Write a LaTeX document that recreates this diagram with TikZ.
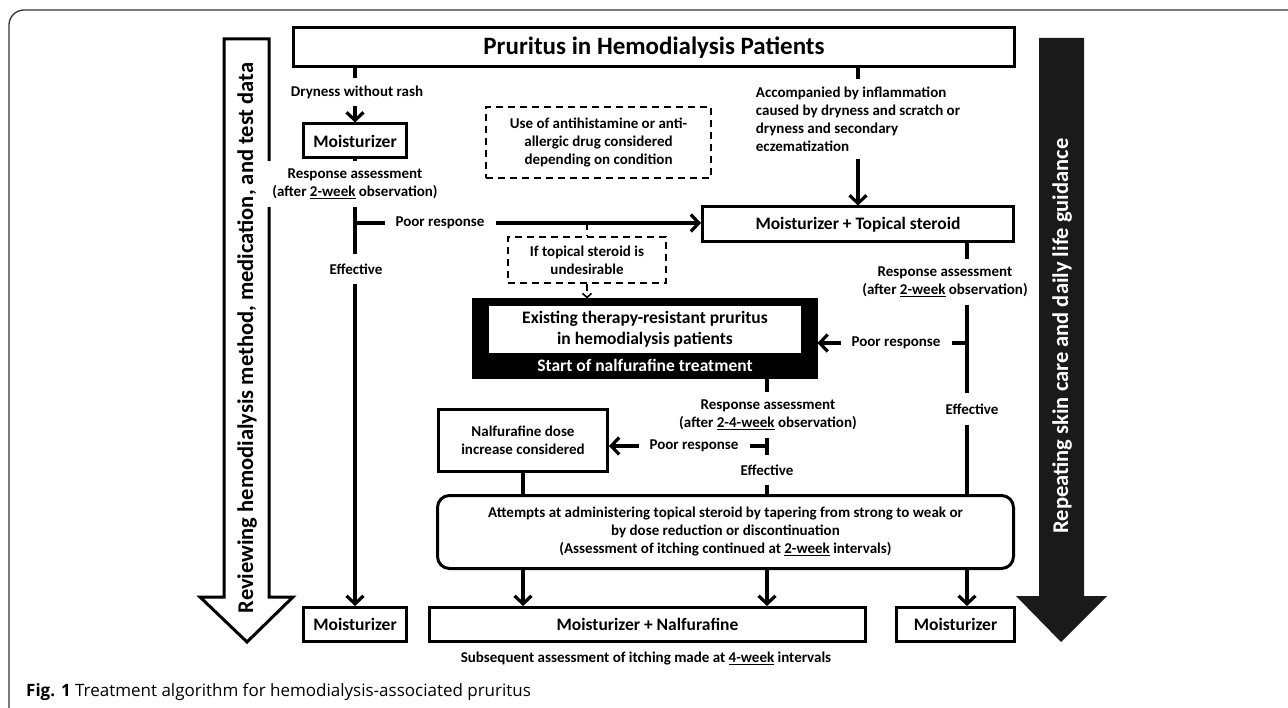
\documentclass[tikz,border=0pt]{standalone}
\usepackage{fontspec}
\setmainfont{Carlito}
\newfontfamily\capfont{Open Sans}
\usetikzlibrary{arrows.meta, positioning}
\definecolor{framegray}{HTML}{333333}
\definecolor{arrowblack}{HTML}{1A1A1A}
\tikzset{
>={Straight Barb[length=8pt,width=17pt]}, % open v-shaped heads
link/.style={line width=3.2pt}, % solid connectors
dashlink/.style={line width=1.6pt, dash pattern=on 7pt off 5pt}, % dashed connectors
box/.style={draw, line width=3pt, fill=white, inner sep=0pt, align=center, font=\bfseries\fontsize{17.5}{21}\selectfont},
smallbox/.style={box, font=\bfseries\fontsize{15}{18}\selectfont},
dbox/.style={draw, dashlink, align=center, inner sep=0pt, font=\bfseries\fontsize{15}{18}\selectfont},
lbl/.style={fill=white, align=center, inner xsep=11pt, inner ysep=8pt, font=\bfseries\fontsize{15}{18}\selectfont},
}

\begin{document}
\begin{tikzpicture}[x=1pt, y=-1pt]
  \useasboundingbox (0,0) rectangle (1288,708);
  % Frame
  \draw[framegray, line width=1.3pt, rounded corners=15pt] (9,708) -- (9,10) -- (1288,10);

  % Side arrows
  \draw[line width=3pt, fill=white] (224,39) -- (269,39) -- (269,597) -- (293,597) -- (247,642) -- (200,597) -- (224,597) -- cycle;
  \node[rotate=90, font=\bfseries\fontsize{22.5}{27}\selectfont] (review) at (247,338) {Reviewing hemodialysis method, medication, and test data};
  \fill[arrowblack] (1039,38) -- (1084,38) -- (1084,596) -- (1107,596) -- (1061,642) -- (1016,596) -- (1039,596) -- cycle;
  \node[rotate=90, text=white, font=\bfseries\fontsize{22.5}{27}\selectfont] (repeat) at (1062,336) {Repeating skin care and daily life guidance};

  % States
  \node[box, minimum width=721, minimum height=39, font=\bfseries\fontsize{25}{30}\selectfont] (top) at (654,47.5) {Pruritus in Hemodialysis Patients};
  \node[box, minimum width=103, minimum height=34] (moistA) at (355,141) {Moisturizer};
  \node[box, minimum width=311, minimum height=35] (mts) at (858,224.5) {Moisturizer + Topical steroid};
  \node[dbox, minimum width=225, minimum height=71] (antihist) at (598.5,142.5) {Use of antihistamine or anti-\\allergic drug considered\\depending on condition};
  \node[dbox, minimum width=158, minimum height=46] (undes) at (587,260) {If topical steroid is\\undesirable};
  \node[draw, fill=black, line width=1pt, minimum width=345, minimum height=80, inner sep=0pt] (nalf) at (644.5,339) {};
  \node[fill=white, minimum width=312, minimum height=47, inner sep=0pt, align=center, font=\bfseries\fontsize{17.5}{21}\selectfont] (resist) at (645,329.5) {Existing therapy-resistant pruritus\\in hemodialysis patients};
  \node[text=white, font=\bfseries\fontsize{17.5}{21}\selectfont] (starttx) at (645,365) {Start of nalfurafine treatment};
  \node[smallbox, minimum width=169, minimum height=62] (dose) at (523,440.5) {Nalfurafine dose\\increase considered};
  \node[smallbox, rounded corners=12pt, minimum width=576, minimum height=73] (attempts) at (725.5,532) {Attempts at administering topical steroid by tapering from strong to weak or\\by dose reduction or discontinuation\\(Assessment of itching continued at \underline{2-week} intervals)};
  \node[box, minimum width=436, minimum height=34] (mn) at (647.5,624.5) {Moisturizer + Nalfurafine};
  \node[box, minimum width=103, minimum height=34] (moistB) at (355,624.5) {Moisturizer};
  \node[box, minimum width=118, minimum height=34] (moistC) at (955.5,624.5) {Moisturizer};
  \coordinate (rline) at (967,0);
  \coordinate (mline) at (767,0);

  % Transitions
  \draw[link, ->] (top.south -| moistA.north) -- (moistA.north);
  \draw[link, ->] (top.south -| mts.north) -- (mts.north);
  \draw[link, ->] (moistA.south) -- (moistB.north);
  \draw[link, ->] (moistA.south |- 0,223) -- (mts.west |- 0,223);
  \draw[dashlink] (undes.north |- 0,223) -- (undes.north);
  \draw[dashlink, -{Straight Barb[length=4pt,width=9pt]}] (undes.south) -- (nalf.north -| undes.south);
  \draw[link] (mts.south -| rline) -- (attempts.north -| rline);
  \draw[link, ->] (rline |- 0,343) -- (nalf.east |- 0,343);
  \draw[link, ->] (attempts.south -| rline) -- (moistC.north -| rline);
  \draw[link] (nalf.south -| mline) -- (attempts.north -| mline);
  \draw[link, ->] (mline |- 0,446) -- (dose.east |- 0,446);
  \draw[link] (dose.south) -- (attempts.north -| dose.south);
  \draw[link, ->] (attempts.south -| dose.south) -- (mn.north -| dose.south);
  \draw[link, ->] (attempts.south -| mline) -- (mn.north -| mline);

  % Labels on the connectors
  \node[lbl] (dry) at (357,92) {Dryness without rash};
  \node[lbl, align=left] (inflam) at (858,119) {Accompanied by inflammation\\caused by dryness and scratch or\\dryness and secondary\\eczematization};
  \node[lbl] (respA) at (355,184) {Response assessment\\(after \underline{2-week} observation)};
  \node[lbl] (poorA) at (440,223) {Poor response};
  \node[lbl, inner ysep=10pt] (effA) at (356,269) {Effective};
  \node[lbl] (respB) at (945,282) {Response assessment\\(after \underline{2-week} observation)};
  \node[lbl] (poorB) at (896,343) {Poor response};
  \node[lbl, inner ysep=11pt] (effB) at (972,409) {Effective};
  \node[lbl] (respC) at (768,415) {Response assessment\\(after \underline{2-4-week} observation)};
  \node[lbl, inner ysep=4pt] (poorC) at (694,446) {Poor response};
  \node[lbl, inner ysep=10pt] (effC) at (767,470) {Effective};
  \node[font=\bfseries\fontsize{15}{18}\selectfont] (subseq) at (646,659) {Subsequent assessment of itching made at \underline{4-week} intervals};
  \node[anchor=west, inner sep=0pt, font=\capfont\fontsize{17}{20}\selectfont] (caption) at (26,692) {\textbf{Fig. 1} Treatment algorithm for hemodialysis-associated pruritus};
\end{tikzpicture}
\end{document}
